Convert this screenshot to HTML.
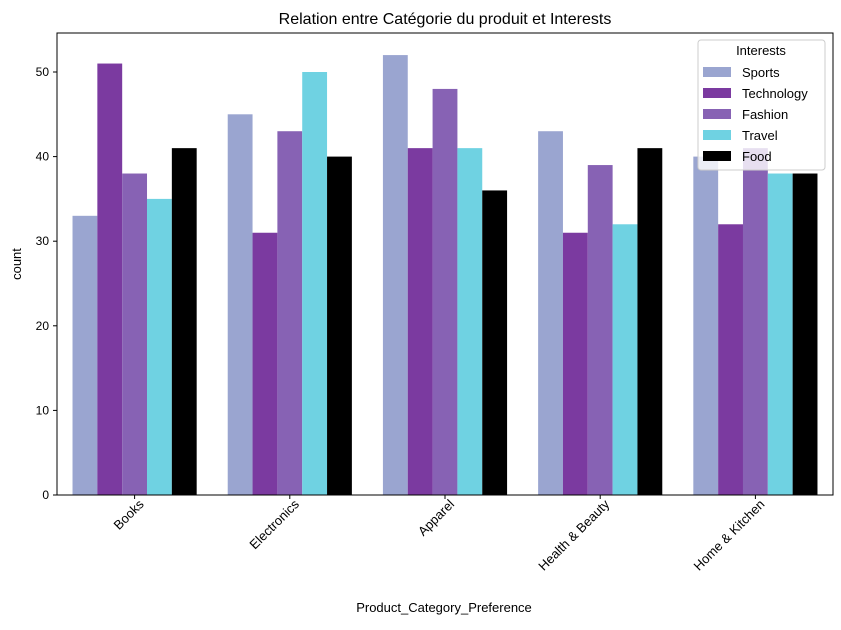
<!DOCTYPE html>
<html><head><meta charset="utf-8"><style>
body{margin:0;background:#fff;}
svg text{font-family:"Liberation Sans","DejaVu Sans",sans-serif;fill:#000;}
</style></head><body>
<svg id="chart" width="841" height="625" xmlns="http://www.w3.org/2000/svg">
<text x="445" y="24" font-size="16" text-anchor="middle">Relation entre Catégorie du produit et Interests</text>
<g id="plot"></g>
<text x="444" y="612" font-size="13" text-anchor="middle">Product_Category_Preference</text>
<text transform="translate(21,264) rotate(-90)" font-size="13" text-anchor="middle">count</text>
</svg>
<script>
const categories=["Books","Electronics","Apparel","Health & Beauty","Home & Kitchen"];
const seriesNames=["Sports","Technology","Fashion","Travel","Food"];
const colors=["#9aa5d0","#7b3aa0","#8762b4","#6fd2e2","#000000"];
const sports=[33,45,52,43,40];
const technology=[51,31,41,31,32];
const fashion=[38,43,48,39,41];
const travel=[35,50,41,32,38];
const food=[41,40,36,41,38];
const yTicks=[0,10,20,30,40,50];
const series=[sports,technology,fashion,travel,food];
const NS="http://www.w3.org/2000/svg";
const g=document.getElementById('plot');
const L=57,R=833,T=33,B=495;
const y=v=>B-(v/50)*(B-72);
const band=(R-L)/categories.length;
const bw=band*0.8/series.length;
function mk(t,a,p){const e=document.createElementNS(NS,t);for(const k in a)e.setAttribute(k,a[k]);(p||g).appendChild(e);return e;}
series.forEach((s,si)=>{s.forEach((v,ci)=>{
 const x=L+band*ci+band*0.1+bw*si;
 const r=mk('rect',{x:x,y:y(v),width:bw,height:B-y(v),fill:colors[si]});
 
 
});});
const frame=mk('rect',{x:L,y:T,width:R-L,height:B-T,fill:'none',stroke:'#000','stroke-width':1});


yTicks.forEach(t=>{
 const ln=mk('line',{x1:L-4,x2:L,y1:y(t),y2:y(t),stroke:'#000'});
 
 
 const tx=mk('text',{x:L-8,y:y(t)+4,'font-size':12,'text-anchor':'end'});tx.textContent=t;
 
 
});
categories.forEach((c,i)=>{
 const cx=L+band*(i+0.5);
 const ln=mk('line',{x1:cx,x2:cx,y1:B,y2:B+4,stroke:'#000'});
 
 
 const tx=mk('text',{transform:`translate(${cx+10},${B+10}) rotate(-45)`,'font-size':13,'text-anchor':'end'});tx.textContent=c;
 
 
});
const lg=mk('g',{});


mk('rect',{x:698,y:40,width:127,height:130,rx:3,fill:'#fff','fill-opacity':0.8,stroke:'#ccc'},lg);
const lt=mk('text',{x:761,y:55,'font-size':13,'text-anchor':'middle'},lg);lt.textContent='Interests';
seriesNames.forEach((n,i)=>{
 const yy=72+i*21;
 const e=mk('g',{},lg);
 
 
 mk('rect',{x:703,y:yy-5,width:28,height:10,fill:colors[i]},e);
 const t=mk('text',{x:742,y:yy+5,'font-size':13},e);t.textContent=n;
});
</script>
</body></html>
